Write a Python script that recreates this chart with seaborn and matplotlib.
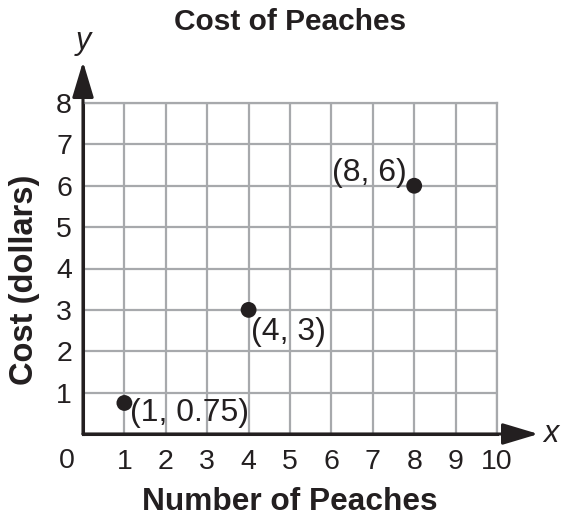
import numpy as np
import pandas as pd
import seaborn as sns
import matplotlib.pyplot as plt

# Data
peaches = [1, 4, 8]
cost = [0.75, 3, 6]
point_labels = ["(1, 0.75)", "(4, 3)", "(8, 6)"]
x_ticks = list(range(0, 11))
y_ticks = list(range(0, 9))

df = pd.DataFrame({"peaches": peaches, "cost": cost})

sns.set_style("white")
plt.rcParams["font.family"] = ["Liberation Sans", "DejaVu Sans"]

ink = "#231f20"
grid_col = "#a7a9ac"

fig = plt.figure(figsize=(5.61, 5.19), dpi=100)
ax = fig.add_axes([83 / 561, 85 / 519, 414 / 561, 331 / 519])

ax.set_xlim(0, 10)
ax.set_ylim(0, 8)
ax.set_xticks(x_ticks)
ax.set_yticks(y_ticks)
ax.set_xticklabels([""] + [str(t) for t in x_ticks[1:]])
ax.set_yticklabels([""] + [str(t) for t in y_ticks[1:]])
ax.tick_params(length=0, labelsize=20.5, colors=ink, pad=8)
ax.tick_params(axis="x", pad=11)
ax.grid(True, color=grid_col, lw=1.6)
ax.set_axisbelow(True)

for s in ["top", "right"]:
    ax.spines[s].set_color(grid_col)
    ax.spines[s].set_linewidth(1.6)
for s in ["left", "bottom"]:
    ax.spines[s].set_color(ink)
    ax.spines[s].set_linewidth(2.2)

# "0" label at origin, shifted left of the y-axis
ax.annotate("0", xy=(0, 0), xytext=(-16, -27), textcoords="offset pixels",
            ha="center", va="center", fontsize=20.5, color=ink, annotation_clip=False)

# axis arrows
arrow = dict(arrowstyle="-|>,head_length=1.0,head_width=0.3", mutation_scale=22,
             lw=2.2, color=ink, shrinkA=0, shrinkB=0)
ax.annotate("", xy=(11, 0), xytext=(0, 0), arrowprops=arrow, annotation_clip=False)
ax.annotate("", xy=(0, 9), xytext=(0, 0), arrowprops=arrow, annotation_clip=False)
ax.text(11.3, 0, "x", style="italic", fontsize=22, color=ink, ha="center", va="center")
ax.text(0.0, 9.5, "y", style="italic", fontsize=22, color=ink, ha="center", va="center")

sns.scatterplot(data=df, x="peaches", y="cost", ax=ax, color=ink, s=130,
                edgecolor="none", zorder=5, clip_on=False, legend=False)

offsets = [(6, -10, "left"), (2, -22, "left"), (-7, 13, "right")]
for xv, yv, lab, (dx, dy, ha) in zip(peaches, cost, point_labels, offsets):
    ax.annotate(lab, xy=(xv, yv), xytext=(dx, dy), textcoords="offset pixels",
                ha=ha, va="center", fontsize=23, color=ink)

ax.set_xlabel("")
ax.set_ylabel("")
fig.text(290 / 561, 1 - 22 / 519, "Cost of Peaches", ha="center", va="center",
         fontsize=21.5, fontweight="bold", color=ink)
fig.text(290 / 561, 1 - 502 / 519, "Number of Peaches", ha="center", va="center",
         fontsize=22.8, fontweight="bold", color=ink)
fig.text(25 / 561, 1 - 280 / 519, "Cost (dollars)", ha="center", va="center",
         rotation=90, fontsize=23.5, fontweight="bold", color=ink)

fig.savefig("out.png", dpi=100, facecolor="white")
